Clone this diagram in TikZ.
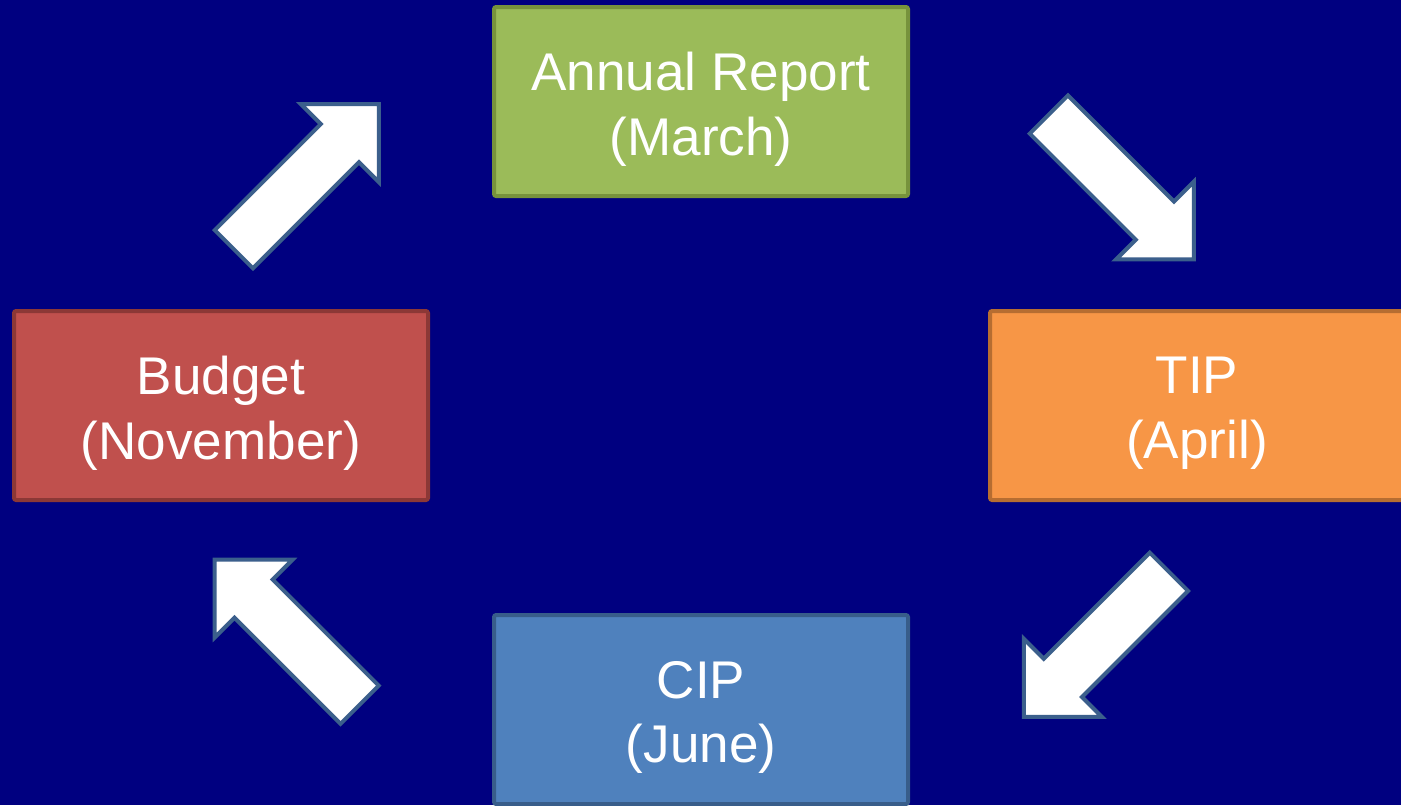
\documentclass[tikz,border=0pt]{standalone}
\usepackage{fontspec}
\setmainfont{Liberation Sans}
\usetikzlibrary{shapes.arrows}
\definecolor{bgnavy}{HTML}{000080}
\definecolor{greenfill}{HTML}{9BBB59}
\definecolor{greenline}{HTML}{77933C}
\definecolor{redfill}{HTML}{C0504D}
\definecolor{redline}{HTML}{8C3836}
\definecolor{orangefill}{HTML}{F79646}
\definecolor{orangeline}{HTML}{B66D31}
\definecolor{bluefill}{HTML}{4F81BD}
\definecolor{blueline}{HTML}{385D8A}
\definecolor{arrowline}{HTML}{3B5F8C}
\tikzset{
  stepbox/.style={draw, line width=0.04cm, rounded corners=0.6pt,
    minimum width=4.14cm, minimum height=1.89cm, inner sep=0pt},
  steptext/.style={text=white, align=center, inner sep=0pt,
    font=\fontsize{15.1}{18.4}\selectfont},
  blockarrow/.style={single arrow, draw=arrowline, fill=white, line width=0.04cm,
    minimum height=2.05cm, single arrow head extend=0.28cm,
    single arrow tip angle=90, inner xsep=0pt, inner ysep=0.25cm, anchor=tail}
}
\begin{document}
\begin{tikzpicture}
\useasboundingbox (0,0) rectangle (14.01,-8.05);
\clip (0,0) rectangle (14.01,-8.05);
\fill[bgnavy] (0,0) rectangle (14.01,-8.05);
\node[stepbox, fill=greenfill, draw=greenline] (annual) at (7.01,-1.015) {};
\node[stepbox, fill=redfill, draw=redline] (budget) at (2.21,-4.055) {};
\node[stepbox, fill=orangefill, draw=orangeline] (tip) at (11.97,-4.055) {};
\node[stepbox, fill=bluefill, draw=blueline] (cip) at (7.01,-7.095) {};
\node[steptext] (annualtext) at ([yshift=-0.08cm]annual.center) {Annual Report\\(March)};
\node[steptext] (budgettext) at ([yshift=-0.08cm]budget.center) {Budget\\(November)};
\node[steptext] (tiptext) at ([yshift=-0.08cm]tip.center) {TIP\\(April)};
\node[steptext] (ciptext) at ([yshift=-0.08cm]cip.center) {CIP\\(June)};
\node[blockarrow, rotate=45] (a1) at (2.324,-2.506) {};
\node[blockarrow, rotate=-45] (a2) at (10.474,-1.131) {};
\node[blockarrow, rotate=-135] (a3) at (11.703,-5.704) {};
\node[blockarrow, rotate=135] (a4) at (3.611,-7.061) {};
\end{tikzpicture}
\end{document}
